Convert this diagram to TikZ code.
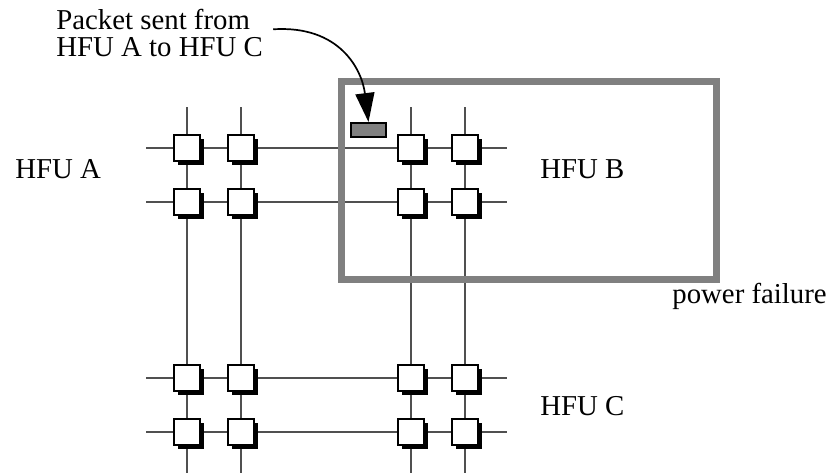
\documentclass[tikz,border=0pt]{standalone}
\usepackage{fontspec}
\setmainfont{Liberation Serif}
\usetikzlibrary{arrows.meta,backgrounds,positioning,shadows}
\definecolor{pfgray}{RGB}{128,128,128}
\definecolor{linkgray}{RGB}{80,80,80}
\tikzset{
  switchbox/.style={draw=black,fill=white,line width=.6pt,minimum size=13pt,inner sep=0pt,
    drop shadow={shadow xshift=2.1pt,shadow yshift=-2.1pt,fill=black,opacity=1}},
  link/.style={draw=linkgray,line width=.55pt},
  packet/.style={draw=black,fill=pfgray,line width=1pt,minimum width=17.5pt,minimum height=7pt,inner sep=0pt},
  tag/.style={anchor=base west,inner sep=0pt,font=\fontsize{14.4pt}{13.4pt}\selectfont},
}

\begin{document}
\begin{tikzpicture}[x=.5pt,y=-.5pt]
  \useasboundingbox (0,0) rectangle (831,473);
  % 4x4 switches, HFU A top left, HFU B top right, HFU C bottom right
  \foreach \c/\x in {1/187,2/241,3/411,4/465}
    \foreach \r/\y in {1/148,2/202,3/378,4/432}
      \node[switchbox] (s\r\c) at (\x,\y) {};
  \begin{scope}[on background layer]
    \foreach \r in {1,...,4}
      \draw[link] ([xshift=-20.5pt]s\r1.center) -- (s\r4.center) -- ++(21pt,0);
    \foreach \c in {1,...,4}
      \draw[link] ([yshift=20.5pt]s1\c.center) -- (s4\c.center) -- ++(0,-20.5pt);
  \end{scope}
  % failed region
  \draw[pfgray,line width=3.5pt] (341,81) rectangle (716,279.5);
  \node[packet] (pkt) at (368.5,130) {};
  \node[tag,align=left] (note) at (56,56.7) {Packet sent from\\HFU A to HFU C};
  \draw[line width=.85pt,-{Triangle[length=14.5pt,width=9.5pt]}]
    ([xshift=5pt,yshift=2pt]note.east) .. controls (340,25) and (362,70) .. (pkt.north);
  \node[tag] (hfua) at (15,178.3) {HFU A};
  \node[tag] (hfub) at (540,178.3) {HFU B};
  \node[tag] (hfuc) at (540,415) {HFU C};
  \node[tag] (pwr) at (672,303.3) {power failure};
\end{tikzpicture}
\end{document}
